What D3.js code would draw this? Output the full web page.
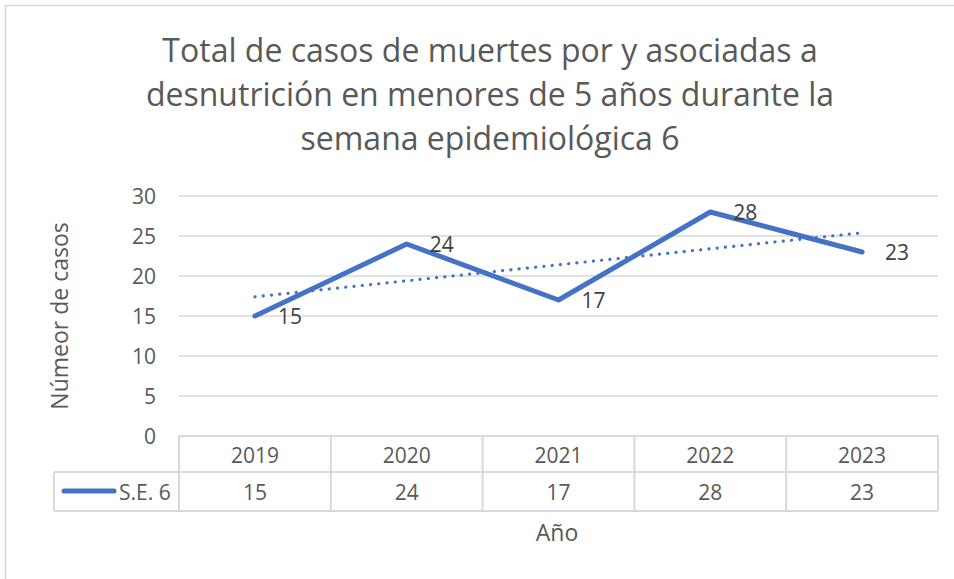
<!DOCTYPE html>
<html>
<head>
<meta charset="utf-8">
<script src="https://cdn.jsdelivr.net/npm/d3@7"></script>
<style>
  body { margin: 0; background: #fff; }
  text { font-family: "Open Sans", sans-serif; }
</style>
</head>
<body>
<div id="chart"></div>
<script>
const years = ["2019", "2020", "2021", "2022", "2023"];
const casos = [15, 24, 17, 28, 23];
const yTicks = [0, 5, 10, 15, 20, 25, 30];
const titleLines = [
    "Total de casos de muertes por y asociadas a",
    "desnutrición en menores de 5 años durante la",
    "semana epidemiológica 6"
];
const seriesName = "S.E. 6";

const width = 954, height = 579;
const plotL = 179, plotR = 938, plotT = 196, plotB = 436;
const row1 = 472, row2 = 511, legendL = 54;
const blue = "#4472c4", grid = "#d9d9d9";

const svg = d3.select("#chart").append("svg")
    .attr("width", width).attr("height", height);

// borde del área del gráfico
svg.append("rect").attr("x", 5.5).attr("y", 5.5).attr("width", 980).attr("height", 600)
    .attr("fill", "#fff").attr("stroke", grid).attr("stroke-width", 1.5);

// título
svg.append("g").selectAll("text").data(titleLines).join("text")
    .attr("x", 490).attr("y", (d, i) => 62 + i * 44)
    .attr("text-anchor", "middle").attr("font-size", "32px").attr("fill", "#595959")
    .text(d => d);

const x = d3.scaleBand().domain(years).range([plotL, plotR]).padding(0);
const y = d3.scaleLinear().domain([0, 30]).range([plotB, plotT]);
const cx = d => x(d) + x.bandwidth() / 2;

// líneas de cuadrícula
svg.append("g").selectAll("line").data(yTicks.filter(t => t > 0)).join("line")
    .attr("x1", plotL).attr("x2", plotR)
    .attr("y1", d => y(d)).attr("y2", d => y(d))
    .attr("stroke", grid).attr("stroke-width", 1.5);

// etiquetas del eje Y
svg.append("g").selectAll("text").data(yTicks).join("text")
    .attr("x", 156).attr("y", d => y(d) + 7.5)
    .attr("text-anchor", "end").attr("font-size", "21px").attr("fill", "#595959")
    .text(d => d);

svg.append("text")
    .attr("transform", `translate(68, 316) rotate(-90)`)
    .attr("text-anchor", "middle").attr("font-size", "23px").attr("fill", "#595959")
    .text("Númeor de casos");

// tabla de datos
const tbl = svg.append("g").attr("stroke", grid).attr("stroke-width", 2);
tbl.append("line").attr("x1", plotL).attr("x2", plotR).attr("y1", plotB).attr("y2", plotB);
tbl.append("line").attr("x1", legendL).attr("x2", plotR).attr("y1", row1).attr("y2", row1);
tbl.append("line").attr("x1", legendL).attr("x2", plotR).attr("y1", row2).attr("y2", row2);
tbl.append("line").attr("x1", legendL).attr("x2", legendL).attr("y1", row1).attr("y2", row2);
tbl.selectAll(".v").data([...years.map(d => x(d)), plotR]).join("line").attr("class", "v")
    .attr("x1", d => d).attr("x2", d => d).attr("y1", plotB).attr("y2", row2);

svg.append("g").selectAll("text").data(years).join("text")
    .attr("x", cx).attr("y", 462.5)
    .attr("text-anchor", "middle").attr("font-size", "21px").attr("fill", "#595959")
    .text(d => d);

svg.append("g").selectAll("text").data(casos).join("text")
    .attr("x", (d, i) => cx(years[i])).attr("y", 499.5)
    .attr("text-anchor", "middle").attr("font-size", "21px").attr("fill", "#595959")
    .text(d => d);

// leyenda
svg.append("line").attr("x1", 64).attr("x2", 114).attr("y1", 491).attr("y2", 491)
    .attr("stroke", blue).attr("stroke-width", 5).attr("stroke-linecap", "round");
svg.append("text").attr("x", 119).attr("y", 499.5)
    .attr("font-size", "21px").attr("fill", "#595959").text(seriesName);

svg.append("text").attr("x", 557).attr("y", 541)
    .attr("text-anchor", "middle").attr("font-size", "23px").attr("fill", "#595959")
    .text("Año");

// línea de tendencia (mínimos cuadrados)
const idx = casos.map((d, i) => i);
const mx = d3.mean(idx), my = d3.mean(casos);
const slope = d3.sum(idx, i => (i - mx) * (casos[i] - my)) / d3.sum(idx, i => (i - mx) ** 2);
const trend = idx.map(i => my + slope * (i - mx));

const line = d3.line().x((d, i) => cx(years[i])).y(d => y(d));

svg.append("path").datum([trend[0], trend[trend.length - 1]])
    .attr("d", d3.line().x((d, i) => cx(years[i * (years.length - 1)])).y(d => y(d)))
    .attr("fill", "none").attr("stroke", blue).attr("stroke-width", 3.2)
    .attr("stroke-linecap", "round").attr("stroke-dasharray", "0.1 8.2");

// serie
svg.append("path").datum(casos)
    .attr("d", line)
    .attr("fill", "none").attr("stroke", blue).attr("stroke-width", 5)
    .attr("stroke-linecap", "round").attr("stroke-linejoin", "round");

// etiquetas de datos
svg.append("g").selectAll("text").data(casos).join("text")
    .attr("x", (d, i) => cx(years[i]) + 23).attr("y", d => y(d) + 7.5)
    .attr("font-size", "21px").attr("fill", "#404040")
    .text(d => d);
</script>
</body>
</html>
